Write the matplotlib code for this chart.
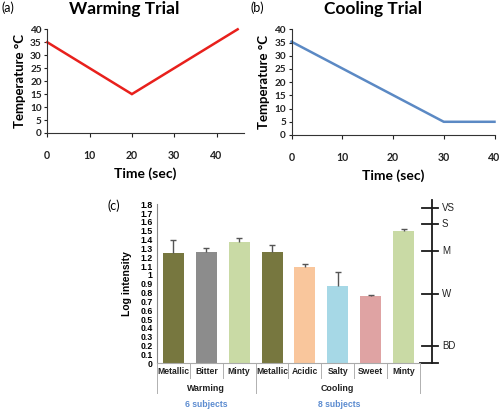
import matplotlib
matplotlib.use("Agg")
import matplotlib.pyplot as plt
import matplotlib.transforms as mtransforms

# ---------------- data ----------------
warm_time = [0, 20, 45]
warm_temp = [35, 15, 40]
cool_time = [0, 30, 40]
cool_temp = [35.3, 5, 5]

categories = ["Metallic", "Bitter", "Minty", "Metallic", "Acidic", "Salty", "Sweet", "Minty"]
log_intensity = [1.245, 1.26, 1.37, 1.257, 1.087, 0.879, 0.762, 1.50]
log_err = [0.155, 0.05, 0.045, 0.083, 0.033, 0.158, 0.008, 0.017]
bar_colors = ["#77773f", "#8c8c8c", "#c9daa5", "#77773f", "#f9c69c", "#a6d8e6", "#dfa3a3", "#c9daa5"]
groups = ["Warming", "Cooling"]
group_sizes = [3, 5]
subjects = ["6 subjects", "8 subjects"]
scale_labels = ["VS", "S", "M", "W", "BD"]
scale_values = [1.755, 1.578, 1.27, 0.788, 0.2]
ytick_vals = [round(0.1 * i, 1) for i in range(19)]
ytick_labels = ["0", "0.1", "0.2", "0.3", "0.4", "0.5", "0.6", "0.7", "0.8", "0.9", "1",
                "1.1", "1.2", "1.3", "1.4", "1.5", "1.6", "1.7", "1.8"]

W, H = 502, 411
fig = plt.figure(figsize=(W / 100, H / 100), dpi=100)

def fx(px):
    return px / W

def fy(py):
    return 1 - py / H

top_font = "Lato"
arial = "Liberation Sans"

def style_line_ax(ax, xlim, xticks):
    ax.set_xlim(*xlim)
    ax.set_ylim(0, 40)
    ax.set_yticks(range(0, 41, 5))
    ax.set_xticks(xticks)
    for s in ["top", "right"]:
        ax.spines[s].set_visible(False)
    for s in ["left", "bottom"]:
        ax.spines[s].set_color("#333333")
        ax.spines[s].set_linewidth(0.8)
    ax.tick_params(axis="y", length=2.5, width=0.8, pad=1.5, labelsize=7.2, colors="#222222")
    ax.tick_params(axis="x", length=3, width=0.8, pad=9, labelsize=7.6, colors="#222222")
    for lab in ax.get_xticklabels() + ax.get_yticklabels():
        lab.set_fontfamily(top_font)
        lab.set_fontweight("bold")
    ax.set_xlabel("Time (sec)", fontsize=10, fontweight="bold", family=top_font, labelpad=5)
    ax.set_ylabel("Temperature °C", fontsize=9.5, fontweight="bold", family=top_font, labelpad=3)

# ---------------- panel (a) ----------------
axa = fig.add_axes([fx(47.3), fy(133), fx(244) - fx(47.3), fy(29.3) - fy(133)])
axa.plot(warm_time, warm_temp, color="#e8201c", lw=1.8, solid_joinstyle="miter", clip_on=False)
style_line_ax(axa, (0, 46.5), [0, 10, 20, 30, 40])
fig.text(fx(124.5), fy(9), "Warming Trial", ha="center", va="center", fontsize=12.5,
         fontweight="bold", family=top_font)
fig.text(fx(1), fy(8), "(a)", ha="left", va="center", fontsize=9, family=top_font)

# ---------------- panel (b) ----------------
axb = fig.add_axes([fx(291.5), fy(135), fx(494.5) - fx(291.5), fy(29.3) - fy(135)])
axb.plot(cool_time, cool_temp, color="#5b89c4", lw=1.8, clip_on=False)
style_line_ax(axb, (0, 40), [0, 10, 20, 30, 40])
fig.text(fx(373), fy(9), "Cooling Trial", ha="center", va="center", fontsize=12.5,
         fontweight="bold", family=top_font)
fig.text(fx(251), fy(8), "(b)", ha="left", va="center", fontsize=9, family=top_font)

# ---------------- panel (c) ----------------
axc = fig.add_axes([fx(157), fy(363.3), fx(420) - fx(157), fy(204.3) - fy(363.3)])
n = len(categories)
xs = list(range(n))
axc.bar(xs, log_intensity, width=0.64, color=bar_colors, zorder=2)
tops = [v + e for v, e in zip(log_intensity, log_err)]
axc.vlines(xs, log_intensity, tops, color="#555555", lw=1.0, zorder=3)
axc.plot(xs, tops, linestyle="none", marker="_", markersize=5, markeredgewidth=1.0,
         color="#555555", zorder=3)
axc.set_xlim(-0.5, n - 0.5)
axc.set_ylim(0, 1.8)
axc.set_yticks(ytick_vals)
axc.set_yticklabels(ytick_labels)
axc.set_xticks([])
for s in ["top", "right"]:
    axc.spines[s].set_visible(False)
axc.spines["left"].set_color("#888888")
axc.spines["bottom"].set_color("#aaaaaa")
axc.spines["left"].set_linewidth(0.8)
axc.spines["bottom"].set_linewidth(0.8)
axc.tick_params(axis="y", length=0, pad=3, labelsize=6.3)
for lab in axc.get_yticklabels():
    lab.set_fontfamily(arial)
    lab.set_fontweight("bold")
axc.set_ylabel("Log intensity", fontsize=7.5, fontweight="bold", family=arial, labelpad=6)
fig.text(fx(108), fy(206), "(c)", ha="left", va="center", fontsize=9, family=top_font)

blend = mtransforms.blended_transform_factory(axc.transData, axc.transAxes)
axh = 159.0
def dy(px):
    return -px / axh

# category labels and separators
for i, c in enumerate(categories):
    axc.text(i, dy(8.5), c, transform=blend, ha="center", va="center", fontsize=6.2,
             fontweight="bold", family=arial, color="#222222")
bounds = [-0.5]
for g in group_sizes:
    bounds.append(bounds[-1] + g)
group_bounds = set(bounds)
for b in range(n + 1):
    xb = b - 0.5
    if xb in group_bounds:
        y1 = dy(30)
    else:
        y1 = dy(15)
    axc.plot([xb, xb], [0, y1], transform=blend, color="#b0b0b0", lw=0.7, clip_on=False)
for gi, g in enumerate(groups):
    c = (bounds[gi] + bounds[gi + 1]) / 2
    axc.text(c, dy(25), g, transform=blend, ha="center", va="center", fontsize=6.4,
             fontweight="bold", family=arial, color="#222222")
    axc.text(c + (0.05 if gi == 1 else 0), dy(41), subjects[gi], transform=blend, ha="center",
             va="center", fontsize=6.2, fontweight="bold", family=arial, color="#5b8bd0")

# right-hand verbal scale
xs_line = 7.874
axc.plot([xs_line, xs_line], [0, 1.85], color="#1a1a1a", lw=1.3, clip_on=False)
axc.plot([7.5, 8.05], [0, 0], color="#1a1a1a", lw=1.3, clip_on=False)
for lab, v in zip(scale_labels, scale_values):
    axc.plot([7.55, 8.05], [v, v], color="#1a1a1a", lw=1.3, clip_on=False)
    axc.text(8.17, v, lab, ha="left", va="center", fontsize=7, family=arial, color="#222222")

fig.savefig("out.png", dpi=100)
